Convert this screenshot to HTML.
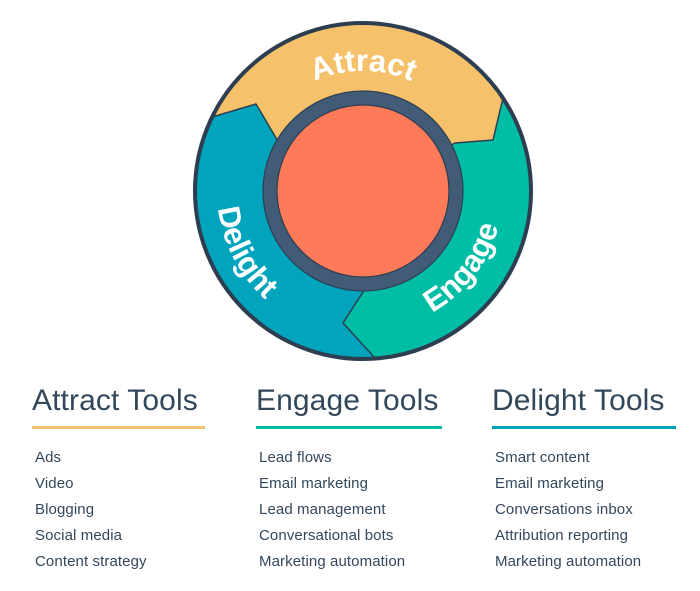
<!DOCTYPE html>
<html><head><meta charset="utf-8"><style>
html,body{margin:0;padding:0;background:#fff;width:700px;height:591px;overflow:hidden}
.h{position:absolute;top:384px;font-family:"Liberation Sans",sans-serif;font-size:30px;color:#33475b;white-space:nowrap;letter-spacing:0.1px}
.u{position:absolute;top:426px;height:3px}
.l{position:absolute;font-family:"Liberation Sans",sans-serif;font-size:15px;color:#33475b;line-height:26px;top:445px;letter-spacing:0.1px}
</style></head><body>
<svg width="700" height="591" style="position:absolute;left:0;top:0">
<defs>
<clipPath id="ann"><path fill-rule="evenodd" clip-rule="evenodd" d="M363,23a168,168 0 1,0 0.01,0Z M363,91a100,100 0 1,0 0.01,0Z"/></clipPath>
<path id="pa" d="M264.7,122.1 A120,120 0 0 1 461.3,122.1"/>
<path id="pd" d="M230.7,129.3 A146,146 0 0 0 337.6,334.8"/>
<path id="pe" d="M375.2,330.5 A140,140 0 0 0 500.9,166.7"/>
</defs>
<circle cx="363" cy="191" r="168" fill="#00a4bd"/>
<g clip-path="url(#ann)" stroke="#2d3e50" stroke-width="1.5" stroke-linejoin="round">
<polygon fill="#00bda5" points="363,191 560,0 560,420 378,420 374,357 343,323 363,292"/>
<polygon fill="#f5c26b" points="363,191 282,148 256,104 212,117 150,130 150,0 560,0 560,95 503,98 493,140 455,143"/>
</g>
<circle cx="363" cy="191" r="168" fill="none" stroke="#2d3e50" stroke-width="4"/>
<circle cx="363" cy="191" r="93" fill="#ff7a59" stroke="#425b76" stroke-width="14"/>
<circle cx="363" cy="191" r="100" fill="none" stroke="#2d3e50" stroke-width="1.2"/>
<circle cx="363" cy="191" r="86" fill="none" stroke="#2d3e50" stroke-width="1.2"/>
<g font-family="Liberation Sans, sans-serif" font-weight="bold" font-size="31" fill="#fff">
<text><textPath href="#pa" startOffset="50%" text-anchor="middle">Attract</textPath></text>
<text><textPath href="#pd" startOffset="50%" text-anchor="middle">Delight</textPath></text>
<text><textPath href="#pe" startOffset="50%" text-anchor="middle">Engage</textPath></text>
</g>
</svg>
<div class="h" style="left:32px">Attract Tools</div>
<div class="u" style="left:32px;width:173px;background:#f5c26b"></div>
<div class="h" style="left:256px">Engage Tools</div>
<div class="u" style="left:256px;width:186px;background:#00bda5"></div>
<div class="h" style="left:492px">Delight Tools</div>
<div class="u" style="left:492px;width:184px;background:#00a4bd"></div>
<div class="l" style="left:35px">Ads<br>Video<br>Blogging<br>Social media<br>Content strategy</div>
<div class="l" style="left:259px">Lead flows<br>Email marketing<br>Lead management<br>Conversational bots<br>Marketing automation</div>
<div class="l" style="left:495px">Smart content<br>Email marketing<br>Conversations inbox<br>Attribution reporting<br>Marketing automation</div>
</body></html>
